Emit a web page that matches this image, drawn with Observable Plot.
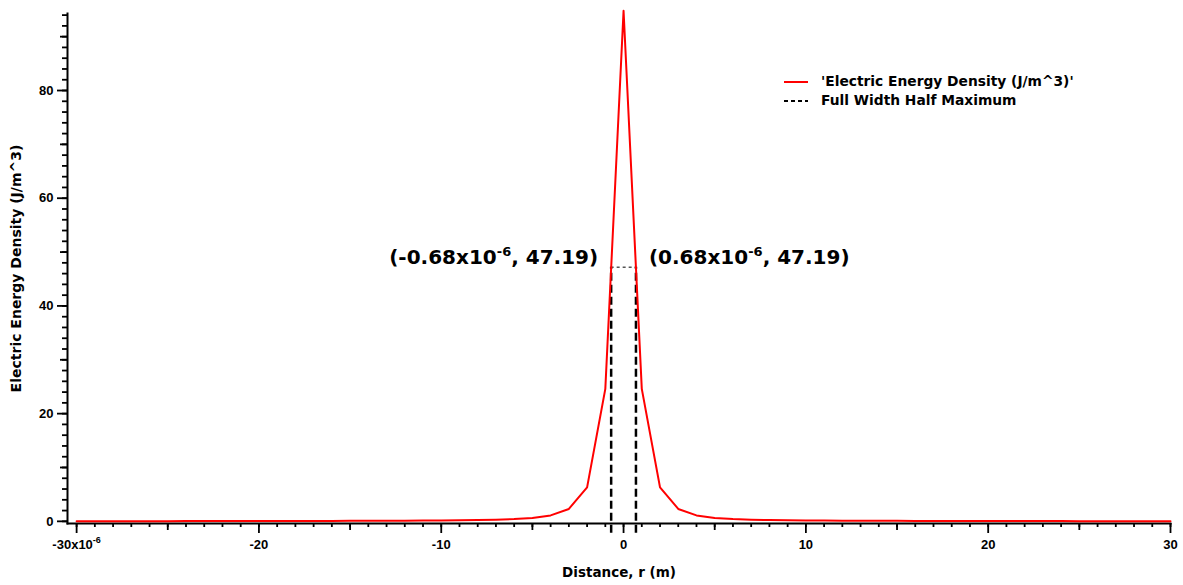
<!DOCTYPE html>
<html>
<head>
<meta charset="utf-8">
<script src="https://cdn.jsdelivr.net/npm/d3@7"></script>
<script src="https://cdn.jsdelivr.net/npm/@observablehq/plot@0.6"></script>
<style>
  body { margin: 0; background: #fff; font-family: "Liberation Sans", Arial, sans-serif; }
  #wrap { position: relative; width: 1183px; height: 585px; }
  #legend { position: absolute; left: 783px; top: 72px; font-family: "DejaVu Sans", sans-serif; font-weight: bold; font-size: 13.8px; color: #000; line-height: 19px; }
  #legend .row { display: flex; align-items: center; }
  #legend svg { margin-right: 12px; }
</style>
</head>
<body>
<div id="wrap">
  <div id="chart"></div>
  <div id="legend">
    <div class="row"><svg width="26" height="6"><line x1="1" y1="3" x2="25" y2="3" stroke="#ff0000" stroke-width="2"/></svg>'Electric Energy Density (J/m^3)'</div>
    <div class="row"><svg width="26" height="6"><line x1="1" y1="3" x2="25" y2="3" stroke="#000" stroke-width="2" stroke-dasharray="4,3"/></svg>Full Width Half Maximum</div>
  </div>
</div>
<script>
// Distance (x 10^-6 m)
const distance = [-30,-29,-28,-27,-26,-25,-24,-23,-22,-21,-20,-19,-18,-17,-16,-15,-14,-13,-12,-11,-10,-9,-8,-7,-6,-5,-4,-3,-2,-1,0,
                  1,2,3,4,5,6,7,8,9,10,11,12,13,14,15,16,17,18,19,20,21,22,23,24,25,26,27,28,29,30];
// Electric energy density (J/m^3)
const density = [0.03,0.03,0.03,0.04,0.04,0.04,0.05,0.05,0.05,0.06,0.06,0.07,0.07,0.08,0.08,0.09,0.10,0.11,0.12,0.14,0.16,0.19,0.24,0.31,0.42,0.62,1.1,2.3,6.3,24.6,94.8,
                 24.6,6.3,2.3,1.1,0.62,0.42,0.31,0.24,0.19,0.16,0.14,0.12,0.11,0.10,0.09,0.08,0.08,0.07,0.07,0.06,0.06,0.05,0.05,0.05,0.04,0.04,0.04,0.03,0.03,0.03];
// FWHM markers
const fwhmX = [-0.68, 0.68];
const fwhmY = 47.19;
const fwhmBottom = -2.2;
const annLabels = ["(-0.68x10-6, 47.19)", "(0.68x10-6, 47.19)"];
const xMajor = [-30,-20,-10,0,10,20,30];
const xMid = [-25,-15,-5,5,15,25];
const xMinor = distance;
const yMajor = [0,20,40,60,80];
const yMid = [10,30,50,70,90];
const yMinor = [0,2,4,6,8,10,12,14,16,18,20,22,24,26,28,30,32,34,36,38,40,42,44,46,48,50,52,54,56,58,60,62,64,66,68,70,72,74,76,78,80,82,84,86,88,90,92,94];

const data = distance.map((d, i) => ({x: d, y: density[i]}));
const ann = fwhmX.map((x, i) => ({x, y: fwhmY, label: annLabels[i]}));

const chart = Plot.plot({
  width: 1183,
  height: 585,
  marginLeft: 67,
  marginRight: 13,
  marginTop: 13,
  marginBottom: 62,
  style: {fontFamily: "'Liberation Sans', Arial, sans-serif", fontWeight: "bold", fontSize: "13px", color: "#000", background: "transparent"},
  x: {domain: [-30.5, 30]},
  y: {domain: [-0.4, 94.3]},
  marks: [
    Plot.axisX({ticks: xMinor, tickSize: 4, tickPadding: 0, text: null, stroke: "#000", strokeWidth: 1.8, label: null}),
    Plot.axisX({ticks: xMid, tickSize: 7, text: null, stroke: "#000", strokeWidth: 1.8, label: null}),
    Plot.axisX({ticks: xMajor, tickSize: 10, tickPadding: 6, stroke: "#000", strokeWidth: 1.8,
      tickFormat: d => d === -30 ? "-30x10-6" : String(d), label: null}),
    Plot.axisX({ticks: [], label: "Distance, r (m)", labelAnchor: "center", labelOffset: 53, labelArrow: "none",
      fontFamily: "'DejaVu Sans', sans-serif", fontSize: 13.5, fontWeight: "bold"}),
    Plot.axisY({ticks: yMinor, tickSize: 5, text: null, stroke: "#000", strokeWidth: 1.8, label: null}),
    Plot.axisY({ticks: yMid, tickSize: 7, text: null, stroke: "#000", strokeWidth: 1.8, label: null}),
    Plot.axisY({ticks: yMajor, tickSize: 10, tickPadding: 4, stroke: "#000", strokeWidth: 1.8, label: null}),
    Plot.axisY({ticks: [], label: "Electric Energy Density (J/m^3)", labelAnchor: "center", labelOffset: 56, labelArrow: "none",
      fontFamily: "'DejaVu Sans', sans-serif", fontSize: 14, fontWeight: "bold"}),
    Plot.frame({anchor: "left", stroke: "#000", strokeWidth: 2}),
    Plot.frame({anchor: "bottom", stroke: "#000", strokeWidth: 2}),
    // FWHM lines
    Plot.ruleX(fwhmX, {x: d => d, y1: fwhmBottom, y2: fwhmY, stroke: "#000", strokeWidth: 2.5, strokeDasharray: "8,4"}),
    Plot.ruleY([fwhmY], {x1: fwhmX[0], x2: fwhmX[1], stroke: "#555", strokeWidth: 1.5, strokeDasharray: "3,3"}),
    // curve
    Plot.line(data, {x: "x", y: "y", stroke: "#ff0000", strokeWidth: 2}),
    // annotations
    Plot.text(ann, {x: "x", y: "y", text: "label", textAnchor: d => d.x < 0 ? "end" : "start",
      dy: -10, fontSize: 20, fontWeight: "bold", fontFamily: "'DejaVu Sans', sans-serif", fill: "#000"}),
  ]
});

const svg = d3.select(chart);
svg.selectAll("text").each(function() {
  const t = d3.select(this);
  const s = t.text();
  if (!s.includes("x10-6")) return;
  const [pre, post] = s.split("x10-6");
  const big = s.startsWith("(");
  const sup = big ? 13 : 9;
  const shift = big ? -8 : -6;
  if (big) {
    const isLeft = s.startsWith("(-");
    t.attr("transform", (t.attr("transform") || "") + ` translate(${isLeft ? -13 : 13},0)`);
    t.attr("text-anchor", isLeft ? "end" : "start");
  }
  t.text(null);
  t.append("tspan").text(pre + "x10");
  t.append("tspan").attr("dy", shift).attr("font-size", sup).text("-6");
  t.append("tspan").attr("dy", -shift).text(post);
});
document.getElementById("chart").appendChild(chart);
</script>
</body>
</html>
